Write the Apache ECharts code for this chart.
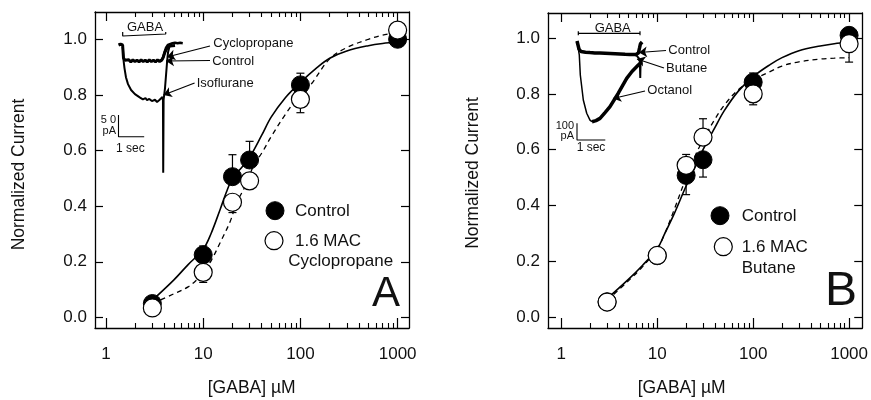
<!DOCTYPE html>
<html><head><meta charset="utf-8">
<script src="https://cdn.jsdelivr.net/npm/echarts@6/dist/echarts.min.js"></script>
<style>html,body{margin:0;padding:0;background:#fff}#c{width:871px;height:400px}</style>
</head><body><div id="c"></div>
<script>
// ---------- data ----------
const conc = [3, 10, 20, 30, 100, 1000];
const xTickLabels = ['1', '10', '100', '1000'];
const xMajorTicks = [1, 10, 100, 1000];
const xMinorTicks = [2,3,4,5,6,7,8,9,20,30,40,50,60,70,80,90,200,300,400,500,600,700,800,900];
const yTicks = [0, 0.2, 0.4, 0.6, 0.8, 1.0];

// Panel A
const ctrlA    = [0.05, 0.225, 0.506, 0.566, 0.836, 1.0];
const ctrlAErr = [null, 0.257, 0.585, 0.633, 0.878, null];
const cycA     = [0.034, 0.162, 0.414, 0.491, 0.784, 1.033];
const cycAErr  = [null, 0.126, 0.377, null, 0.736, null];
const fitCtrlAX = [3,5,7,10,12,15,17.3,20,25,30,40,50,70,100,150,200,300,500,700,1000];
const fitCtrlAY = [0.062,0.135,0.19,0.245,0.3,0.39,0.45,0.5,0.54,0.575,0.655,0.72,0.79,0.845,0.9,0.932,0.958,0.977,0.985,0.99];
const fitCycAX = [3,5,7,8.6,10,12.2,15,18.9,22,28,32.7,41.5,50,70,85,100,130,200,300,500,700,1000];
const fitCycAY = [0.05,0.085,0.11,0.135,0.16,0.207,0.27,0.344,0.41,0.482,0.542,0.6,0.65,0.73,0.77,0.795,0.84,0.93,0.97,1.0,1.015,1.025];

// Panel B
const ctrlB    = [0.055, 0.22, 0.508, 0.564, 0.842, 1.01];
const ctrlBErr = [null, null, 0.439, 0.502, 0.875, null];
const butB     = [0.054, 0.221, 0.544, 0.645, 0.80, 0.98];
const butBErr  = [null, null, 0.583, 0.711, 0.761, 0.914];
const fitBX = [3,5,7,10,12,15,20,25,30,40,50,70,100,150,200,300,500,700,1000];
const fitCtrlBY = [0.066,0.135,0.185,0.245,0.3,0.37,0.47,0.54,0.6,0.68,0.74,0.81,0.862,0.905,0.93,0.955,0.972,0.98,0.986];
const fitButBY  = [0.06,0.13,0.18,0.245,0.3,0.385,0.5,0.58,0.635,0.71,0.76,0.815,0.85,0.88,0.9,0.915,0.925,0.928,0.93];

// Inset A traces (time s, current pA)
const insACtrlT = [0,0.08,0.16,0.195,0.25,0.32,0.4,0.48,0.56,0.64,0.72,0.8,0.88,0.96,1.04,1.12,1.2,1.28,1.36,1.44,1.52,1.6,1.68,1.73,1.81,1.89,2.0,2.2];
const insACtrlI = [0,2,0,-30,-35,-38,-34,-39,-34,-38,-35,-39,-34,-38,-35,-39,-34,-38,-35,-39,-34,-38,-35,-30,-16,-7,-2.3,-1];
const insACycT = [1.6,1.68,1.74,1.79,1.85,1.92,1.98,2.1,2.2,2.3,2.4,2.5];
const insACycI = [-36,-34,-28,-17,-6,0,2,4,5,4,5,4];
const insAIsoT = [0.16,0.175,0.195,0.233,0.29,0.37,0.49,0.64,0.84,0.95,1.05,1.11,1.2,1.3,1.42,1.5,1.58,1.65,1.71,1.73,1.74,1.755,1.81,1.85,1.89,1.93,1.98];
const insAIsoI = [0,-11.5,-34.5,-53,-74,-90,-103.5,-113,-121,-125,-122,-127,-124,-129,-126,-131,-127,-126.5,-119.6,-126.5,-294,-126.5,-99,-69,-39,-16,-4.6];
const insAGabaT = [0.163, 1.837], insAGabaI = 25.3;
const insAScaleT = [0, 1], insAScaleI = [-161, -211];

// Inset B traces
const insBCtrlT = [0,0.035,0.07,0.14,0.3,0.46,0.63,0.81,0.99,1.17,1.35,1.52,1.7,1.87,2.08,2.17,2.21,2.24,2.3];
const insBCtrlI = [0,-3,-47,-62,-66,-68,-70,-70.6,-72,-73.5,-75,-76.4,-78,-79.4,-79.4,-70.6,-41,-17.6,-5.9];
const insBButT = [2.0,2.1,2.16,2.22,2.235,2.245,2.26];
const insBButI = [-80,-85,-92,-108,-217,-140,-125];
const insBOctDownT = [0,0.046,0.081,0.117,0.223,0.343,0.459,0.53];
const insBOctDownI = [0,-5.9,-82,-200,-347,-425,-465,-475];
const insBOctUpT = [0.53,0.671,0.813,0.99,1.166,1.459,1.756,1.943,2.166,2.28];
const insBOctUpI = [-475,-468,-455,-420.6,-386,-307,-220,-179,-141,-123.5];
const insBGabaT = [0.046, 2.226], insBGabaI = 45;
const insBScaleT = [0, 1], insBScaleI = [-484, -582];

// ---------- build ----------
const FONT = "'Liberation Sans', Arial, Helvetica, sans-serif";
const lg = v => Math.log10(v);
const pairs = (xs, ys) => xs.map((x, i) => [x, ys[i]]);
const logPairs = (xs, ys) => xs.map((x, i) => [lg(x), ys[i]]);
const errData = (ys, es) => conc.map((c, i) => es[i] == null ? null : [lg(c), ys[i], es[i]]).filter(d => d);
const K = '#000';

function mainAxes(g, xmin, xmax, ymin, ymax) {
  const ax = { onZero: false, lineStyle: { color: K, width: 1.3 } };
  const xs = [
    { gridIndex: g, type: 'value', min: xmin, max: xmax, position: 'bottom',
      axisLine: { show: true, ...ax }, splitLine: { show: false },
      axisTick: { inside: true, length: 10, customValues: xMajorTicks.map(lg), lineStyle: { color: K, width: 1.2 } },
      axisLabel: { customValues: xMajorTicks.map(lg), margin: 18, color: '#111', fontSize: 17, fontFamily: FONT,
        formatter: v => xTickLabels[Math.round(v)] } },
    { gridIndex: g, type: 'value', min: xmin, max: xmax, position: 'bottom',
      axisLine: { show: false, onZero: false }, splitLine: { show: false }, axisLabel: { show: false },
      axisTick: { inside: true, length: 5, customValues: xMinorTicks.map(lg), lineStyle: { color: K, width: 1.1 } } },
    { gridIndex: g, type: 'value', min: xmin, max: xmax, position: 'top',
      axisLine: { show: true, ...ax }, splitLine: { show: false }, axisLabel: { show: false },
      axisTick: { inside: true, length: 9, customValues: xMajorTicks.map(lg), lineStyle: { color: K, width: 1.2 } } },
    { gridIndex: g, type: 'value', min: xmin, max: xmax, position: 'top',
      axisLine: { show: false, onZero: false }, splitLine: { show: false }, axisLabel: { show: false },
      axisTick: { inside: true, length: 5, customValues: xMinorTicks.map(lg), lineStyle: { color: K, width: 1.1 } } }
  ];
  const ys = [
    { gridIndex: g, type: 'value', min: ymin, max: ymax, position: 'left',
      axisLine: { show: true, ...ax }, splitLine: { show: false },
      axisTick: { inside: true, length: 8, customValues: yTicks, lineStyle: { color: K, width: 1.2 } },
      axisLabel: { customValues: yTicks, margin: 8, color: '#111', fontSize: 17, fontFamily: FONT, formatter: v => v.toFixed(1) } },
    { gridIndex: g, type: 'value', min: ymin, max: ymax, position: 'right',
      axisLine: { show: true, ...ax }, splitLine: { show: false }, axisLabel: { show: false },
      axisTick: { inside: true, length: 8, customValues: yTicks, lineStyle: { color: K, width: 1.2 } } }
  ];
  return { xs, ys };
}

const A = mainAxes(0, -0.113, 3.117, -0.038, 1.098);
const B = mainAxes(1, -0.139, 3.137, -0.039, 1.09);

const xAxis = [...A.xs, ...B.xs,
  { gridIndex: 2, type: 'value', min: -0.525, max: 3.755, show: false },
  { gridIndex: 3, type: 'value', min: -0.6007, max: 3.6396, show: false }];
const yAxis = [...A.ys, ...B.ys,
  { gridIndex: 2, type: 'value', min: -310.5, max: 57.5, show: false },
  { gridIndex: 3, type: 'value', min: -699.7, max: 123.5, show: false }];

function errSeries(xi, yi, data) {
  return { type: 'custom', xAxisIndex: xi, yAxisIndex: yi, z: 3, data,
    renderItem: (p, api) => {
      const a = api.coord([api.value(0), api.value(1)]);
      const b = api.coord([api.value(0), api.value(2)]);
      const st = { stroke: K, lineWidth: 1.2 };
      return { type: 'group', children: [
        { type: 'line', shape: { x1: a[0], y1: a[1], x2: b[0], y2: b[1] }, style: st },
        { type: 'line', shape: { x1: b[0] - 4, y1: b[1], x2: b[0] + 4, y2: b[1] }, style: st } ] };
    } };
}
function curve(xi, yi, xs, ys, dashed) {
  return { type: 'line', xAxisIndex: xi, yAxisIndex: yi, z: 2, data: logPairs(xs, ys), smooth: 0.35,
    showSymbol: false, symbol: 'none',
    lineStyle: { color: K, width: dashed ? 1.3 : 1.6, type: dashed ? [5, 4] : 'solid' } };
}
function pts(xi, yi, ys, open) {
  return { type: 'scatter', xAxisIndex: xi, yAxisIndex: yi, z: open ? 5 : 4, symbolSize: 18,
    data: conc.map((c, i) => [lg(c), ys[i]]),
    itemStyle: open ? { color: '#fff', borderColor: K, borderWidth: 1.2, opacity: 1 } : { color: K, borderColor: K, borderWidth: 1, opacity: 1 } };
}
function trace(xi, yi, ts, is, w) {
  return { type: 'line', xAxisIndex: xi, yAxisIndex: yi, z: 6, data: pairs(ts, is), showSymbol: false, symbol: 'none',
    lineStyle: { color: K, width: w } };
}
function bar(xi, yi, ts, I, cap) {
  return { type: 'line', xAxisIndex: xi, yAxisIndex: yi, z: 6, showSymbol: false, symbol: 'none',
    data: [[ts[0], I + cap], [ts[0], I - cap], [ts[0], I], [ts[1], I], [ts[1], I + cap], [ts[1], I - cap]],
    lineStyle: { color: K, width: 1.2 } };
}
function scaleBar(xi, yi, ts, is) {
  return { type: 'line', xAxisIndex: xi, yAxisIndex: yi, z: 6, showSymbol: false, symbol: 'none',
    data: [[ts[0], is[0]], [ts[0], is[1]], [ts[1], is[1]]], lineStyle: { color: K, width: 1.1 } };
}
function arrows(xi, yi, list) {
  return { type: 'line', xAxisIndex: xi, yAxisIndex: yi, z: 7, data: [], showSymbol: false,
    markLine: { silent: true, symbol: ['none', 'arrow'], symbolSize: 8, animation: false,
      label: { show: false }, lineStyle: { color: K, type: 'solid', width: 1.2 },
      data: list.map(a => [{ coord: a[0] }, { coord: a[1] }]) } };
}

const series = [
  curve(0, 0, fitCtrlAX, fitCtrlAY, false),
  curve(0, 0, fitCycAX, fitCycAY, true),
  errSeries(0, 0, errData(ctrlA, ctrlAErr)),
  errSeries(0, 0, errData(cycA, cycAErr)),
  pts(0, 0, ctrlA, false),
  pts(0, 0, cycA, true),
  curve(4, 2, fitBX, fitCtrlBY, false),
  curve(4, 2, fitBX, fitButBY, true),
  errSeries(4, 2, errData(ctrlB, ctrlBErr)),
  errSeries(4, 2, errData(butB, butBErr)),
  pts(4, 2, ctrlB, false),
  pts(4, 2, butB, true),
  trace(8, 4, insACtrlT, insACtrlI, 3),
  trace(8, 4, insACycT, insACycI, 2.5),
  trace(8, 4, insAIsoT, insAIsoI, 2),
  bar(8, 4, insAGabaT, insAGabaI, 4.6),
  scaleBar(8, 4, insAScaleT, insAScaleI),
  arrows(8, 4, [[[3.56, -2.3], [1.887, -27.6]], [[3.56, -35.65], [1.848, -36.8]], [[2.96, -87.4], [1.75, -115]]]),
  trace(9, 5, insBCtrlT, insBCtrlI, 3.5),
  trace(9, 5, insBButT, insBButI, 2),
  trace(9, 5, insBOctDownT, insBOctDownI, 1.5),
  trace(9, 5, insBOctUpT, insBOctUpI, 3.5),
  bar(9, 5, insBGabaT, insBGabaI, 11.8),
  scaleBar(9, 5, insBScaleT, insBScaleI),
  arrows(9, 5, [[[3.145, -55.9], [2.19, -67.6]], [[3.074, -158.8], [2.12, -105.8]], [[2.403, -294], [1.272, -338]]])
];

function txt(x, y, s, size, opts) {
  return Object.assign({ type: 'text', x, y, z: 100,
    style: Object.assign({ text: s, fontSize: size, fontFamily: FONT, fill: '#111', textAlign: 'left', textVerticalAlign: 'middle' }, opts || {}) });
}
function circ(x, y, open) {
  return { type: 'circle', z: 100, shape: { cx: x, cy: y, r: 9 },
    style: open ? { fill: '#fff', stroke: K, lineWidth: 1.2 } : { fill: K, stroke: K } };
}
const graphic = [
  Object.assign(txt(19, 174.5, 'Normalized Current', 17.5, { textAlign: 'center' }), { rotation: Math.PI / 2 }),
  Object.assign(txt(473, 173, 'Normalized Current', 17.5, { textAlign: 'center' }), { rotation: Math.PI / 2 }),
  txt(251.7, 388, '[GABA] µM', 17.5, { textAlign: 'center' }),
  txt(681.7, 388, '[GABA] µM', 17.5, { textAlign: 'center' }),
  circ(275, 210.7, false), txt(295, 211, 'Control', 17),
  circ(274, 240.7, true), txt(295, 241, '1.6 MAC', 17), txt(288.3, 261, 'Cyclopropane', 17),
  circ(720, 215.7, false), txt(741.7, 216, 'Control', 17),
  circ(723.3, 246.7, true), txt(741.7, 247, '1.6 MAC', 17), txt(741.7, 268.5, 'Butane', 17),
  txt(400, 315, 'A', 42, { textAlign: 'right', textVerticalAlign: 'bottom' }),
  txt(857, 316, 'B', 48, { textAlign: 'right', textVerticalAlign: 'bottom' }),
  txt(145, 27.5, 'GABA', 13, { textAlign: 'center' }),
  txt(213.3, 43.5, 'Cyclopropane', 13),
  txt(212.3, 61, 'Control', 13),
  txt(196.7, 83, 'Isoflurane', 13),
  txt(116, 120, '5 0', 11, { textAlign: 'right' }),
  txt(116, 130.5, 'pA', 11, { textAlign: 'right' }),
  txt(130.3, 148.3, '1 sec', 12, { textAlign: 'center' }),
  txt(612.7, 28, 'GABA', 13, { textAlign: 'center' }),
  txt(668.3, 50, 'Control', 13),
  txt(666, 68.5, 'Butane', 13),
  txt(647.3, 90.5, 'Octanol', 13),
  txt(574, 126, '100', 11, { textAlign: 'right' }),
  txt(574, 136, 'pA', 11, { textAlign: 'right' }),
  txt(591, 148, '1 sec', 12, { textAlign: 'center' })
];

const chart = echarts.init(document.getElementById('c'), null, { renderer: 'canvas' });
chart.setOption({
  animation: false,
  backgroundColor: '#fff',
  grid: [
    { left: 95, top: 12, width: 314, height: 316 },
    { left: 548, top: 13, width: 317, height: 315 },
    { left: 105, top: 20, width: 110, height: 160 },
    { left: 560, top: 20, width: 120, height: 140 }
  ],
  xAxis, yAxis, series, graphic
});
</script></body></html>
